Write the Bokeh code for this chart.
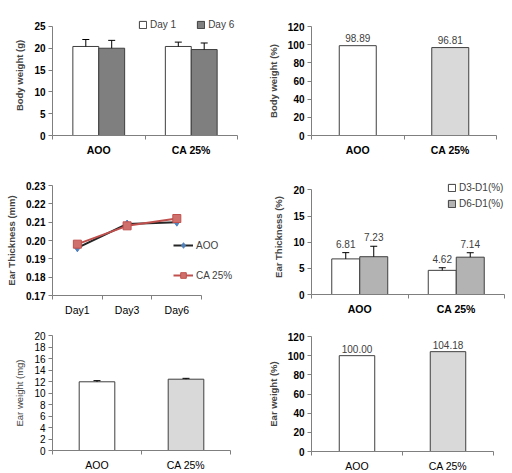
from bokeh.plotting import figure
from bokeh.models import (ColumnDataSource, Range1d, Whisker, TeeHead,
                          Legend, LegendItem, NumeralTickFormatter, FixedTicker)
from bokeh.layouts import column, row
from bokeh.embed import file_html
from bokeh.resources import INLINE
from bokeh.core.properties import value

# ---------------- data ----------------
groups = ["AOO", "CA 25%"]
bw_day1 = [20.4, 20.4]
bw_day1_err = [1.6, 1.0]
bw_day6 = [20.0, 19.7]
bw_day6_err = [1.8, 1.5]
bw_pct = [98.89, 96.81]
bw_pct_labels = ["98.89", "96.81"]

days = ["Day1", "Day3", "Day6"]
et_aoo = [0.196, 0.209, 0.210]
et_ca = [0.198, 0.208, 0.212]

et_d3 = [6.81, 4.62]
et_d3_err = [1.2, 0.5]
et_d6 = [7.23, 7.14]
et_d6_err = [2.0, 0.85]
et_d3_labels = ["6.81", "4.62"]
et_d6_labels = ["7.23", "7.14"]

ew_mg = [11.95, 12.4]
ew_mg_err = [0.2, 0.15]
ew_pct = [100.00, 104.18]
ew_pct_labels = ["100.00", "104.18"]

FONT = "Liberation Sans"
AX = "#7f7f7f"
EDGE = "#3f3f3f"

# category slot centres (one unit per category, as in a category axis)
gx = [i + 0.5 for i in range(len(groups))]
dx = [i + 0.5 for i in range(len(days))]


def shift(xs, d):
    return [x + d for x in xs]


def make_fig(cats, x_end, y_range, ticks, fw, fh, l, r, t, b, ylabel, y_bounds=None,
             tick_bold=True, label_bold=True, cat_bold=True):
    n = len(cats)
    centres = [i + 0.5 for i in range(n)]
    p = figure(x_range=Range1d(0, x_end), y_range=y_range,
               frame_width=fw, frame_height=fh,
               min_border_left=l, min_border_right=r, min_border_top=t, min_border_bottom=b,
               output_backend="svg", toolbar_location=None, tools="")
    p.outline_line_color = None
    p.xgrid.visible = False
    p.ygrid.visible = False
    p.border_fill_color = "white"
    p.background_fill_color = "white"
    for ax in (p.xaxis[0], p.yaxis[0]):
        ax.axis_line_color = AX
        ax.major_tick_line_color = AX
        ax.minor_tick_line_color = None
        ax.major_tick_out = 4
        ax.major_tick_in = 0
        ax.major_label_text_font = FONT
        ax.major_label_text_color = "#000000"
        ax.axis_label_text_font = FONT
    p.yaxis[0].ticker = FixedTicker(ticks=ticks)
    if y_bounds is not None:
        p.yaxis[0].bounds = y_bounds
    p.yaxis[0].major_label_text_font_size = "10px"
    p.yaxis[0].major_label_text_font_style = "bold" if tick_bold else "normal"
    p.yaxis[0].major_label_standoff = 3
    p.yaxis[0].axis_label = ylabel
    p.yaxis[0].axis_label_text_font_size = "9.5px"
    p.yaxis[0].axis_label_text_font_style = "bold" if label_bold else "normal"
    p.yaxis[0].axis_label_standoff = 6
    xa = p.xaxis[0]
    xa.ticker = FixedTicker(ticks=centres, minor_ticks=list(range(n + 1)))
    xa.major_label_overrides = {c: s for c, s in zip(centres, cats)}
    xa.bounds = (0, n)
    xa.major_tick_line_color = None
    xa.minor_tick_line_color = AX
    xa.minor_tick_line_width = 1
    xa.minor_tick_out = 4
    xa.minor_tick_in = 0
    xa.major_label_text_font_size = "10.5px"
    xa.major_label_text_font_style = "bold" if cat_bold else "normal"
    xa.major_label_standoff = 4
    return p


def whisker(p, xs, lows, errs):
    src = ColumnDataSource(dict(x=xs, lo=lows, up=[a + e for a, e in zip(lows, errs)]))
    w = Whisker(base="x", lower="lo", upper="up", source=src,
                line_color="black", line_width=1, lower_head=None,
                upper_head=TeeHead(size=7, line_color="black", line_width=1))
    w.level = "annotation"
    p.add_layout(w)


def legend(p, items, loc, orientation="vertical", spacing=4, gw=9, gh=9, lh=12):
    lg = Legend(items=items, location=loc, orientation=orientation,
                background_fill_alpha=0, border_line_color=None, padding=0, margin=0,
                spacing=spacing, glyph_width=gw, glyph_height=gh, label_height=lh,
                label_standoff=3, label_text_font=FONT, label_text_font_size="10px",
                label_text_color="#404040")
    p.add_layout(lg)


def value_labels(p, xs, ys, labels, off):
    src = ColumnDataSource(dict(x=xs, y=ys, t=labels))
    p.text(x="x", y="y", text="t", source=src, y_offset=off, text_align="center",
           text_baseline="bottom", text_font=value(FONT), text_font_size="10px",
           text_color="#404040")


# ---------------- panel 1: body weight (g) ----------------
p1 = make_fig(groups, len(groups), Range1d(0, 27.5), [0, 5, 10, 15, 20, 25],
              185, 120, 52, 19, 15, 20, "Body weight (g)", y_bounds=(0, 25))
r11 = p1.vbar(x=shift(gx, -0.14), top=bw_day1, width=0.28,
              fill_color="white", line_color=EDGE)
r12 = p1.vbar(x=shift(gx, 0.14), top=bw_day6, width=0.28,
              fill_color="#7f7f7f", line_color=EDGE)
whisker(p1, shift(gx, -0.14), bw_day1, bw_day1_err)
whisker(p1, shift(gx, 0.14), bw_day6, bw_day6_err)
legend(p1, [LegendItem(label="Day 1", renderers=[r11]),
            LegendItem(label="Day 6", renderers=[r12])],
       (86, 105), orientation="horizontal", spacing=20)

# ---------------- panel 3: ear thickness (mm) ----------------
p3 = make_fig(days, 3.7, Range1d(0.17, 0.23),
              [0.17, 0.18, 0.19, 0.20, 0.21, 0.22, 0.23],
              184, 110, 52, 20, 27, 26, "Ear Thickness (mm)", cat_bold=False)
p3.yaxis[0].formatter = NumeralTickFormatter(format="0.00")
s3 = ColumnDataSource(dict(x=dx, a=et_aoo, c=et_ca))
la = p3.line(x="x", y="a", source=s3, line_color="#262626", line_width=2)
ma = p3.scatter(x="x", y="a", source=s3, marker="diamond", size=8,
                fill_color="#4f81bd", line_color="#4f81bd")
lc = p3.line(x="x", y="c", source=s3, line_color="#c0504d", line_width=2)
mc = p3.scatter(x="x", y="c", source=s3, marker="square", size=8,
                fill_color="#d0706d", line_color="#c0504d")
legend(p3, [LegendItem(label="AOO", renderers=[la, ma]),
            LegendItem(label="CA 25%", renderers=[lc, mc])],
       (121, 13), spacing=16, gw=20, gh=14, lh=14)

# ---------------- panel 5: ear weight (mg) ----------------
p5 = make_fig(groups, len(groups), Range1d(0, 20), list(range(0, 21, 2)),
              178, 115, 52, 26, 14, 24, "Ear weight (mg)",
              tick_bold=False, label_bold=False, cat_bold=False)
p5.vbar(x=gx, top=ew_mg, width=0.4, fill_color=["white", "#d9d9d9"], line_color=EDGE)
whisker(p5, gx, ew_mg, ew_mg_err)

# ---------------- panel 2: body weight (%) ----------------
p2 = make_fig(groups, len(groups), Range1d(0, 120), [0, 20, 40, 60, 80, 100, 120],
              185, 109, 55, 16, 26, 20, "Body weight (%)")
p2.vbar(x=gx, top=bw_pct, width=0.4, fill_color=["white", "#d9d9d9"], line_color=EDGE)
value_labels(p2, gx, bw_pct, bw_pct_labels, -4)

# ---------------- panel 4: ear thickness (%) ----------------
p4 = make_fig(groups, len(groups), Range1d(0, 22), [0, 5, 10, 15, 20],
              193, 115, 55, 8, 21, 27, "Ear Thickness (%)", y_bounds=(0, 20))
r41 = p4.vbar(x=shift(gx, -0.145), top=et_d3, width=0.29,
              fill_color="white", line_color=EDGE)
r42 = p4.vbar(x=shift(gx, 0.145), top=et_d6, width=0.29,
              fill_color="#b3b3b3", line_color=EDGE)
whisker(p4, shift(gx, -0.145), et_d3, et_d3_err)
whisker(p4, shift(gx, 0.145), et_d6, et_d6_err)
value_labels(p4, shift(gx, -0.145), [a + e for a, e in zip(et_d3, et_d3_err)], et_d3_labels, -5)
value_labels(p4, shift(gx, 0.145), [a + e for a, e in zip(et_d6, et_d6_err)], et_d6_labels, -5)
legend(p4, [LegendItem(label="D3-D1(%)", renderers=[r41]),
            LegendItem(label="D6-D1(%)", renderers=[r42])],
       (136, 85), spacing=4)

# ---------------- panel 6: ear weight (%) ----------------
p6 = make_fig(groups, len(groups), Range1d(0, 120), [0, 20, 40, 60, 80, 100, 120],
              182, 115, 55, 19, 15, 24, "Ear weight (%)", cat_bold=False)
p6.vbar(x=gx, top=ew_pct, width=0.39, fill_color=["white", "#d9d9d9"], line_color=EDGE)
value_labels(p6, gx, ew_pct, ew_pct_labels, -3)

layout = row(column(p1, p3, p5), column(p2, p4, p6))
open("out.html", "w").write(file_html(layout, INLINE))
